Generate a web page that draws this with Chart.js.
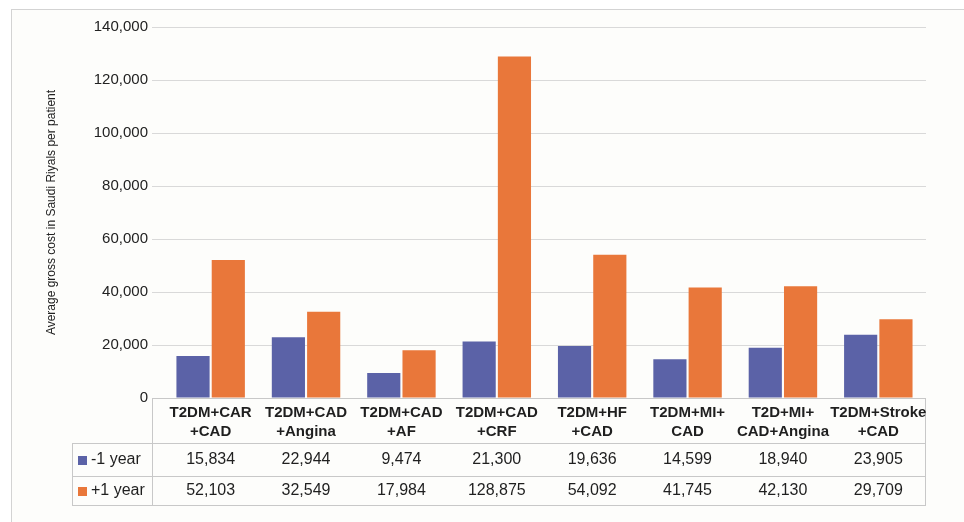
<!DOCTYPE html>
<html>
<head>
<meta charset="utf-8">
<script src="https://cdn.jsdelivr.net/npm/chart.js@4.4.1/dist/chart.umd.min.js"></script>
<style>
  html, body { margin: 0; padding: 0; background: #ffffff; }
  canvas { display: block; }
</style>
</head>
<body>
<canvas id="chart" width="964" height="522"></canvas>
<script>
// Comorbidity groups (two-line headers for the data table)
const categories = [
  ["T2DM+CAR", "+CAD"],
  ["T2DM+CAD", "+Angina"],
  ["T2DM+CAD", "+AF"],
  ["T2DM+CAD", "+CRF"],
  ["T2DM+HF", "+CAD"],
  ["T2DM+MI+", "CAD"],
  ["T2D+MI+", "CAD+Angina"],
  ["T2DM+Stroke", "+CAD"]
];
const seriesNames = ["-1 year", "+1 year"];
const costBefore = [15834, 22944, 9474, 21300, 19636, 14599, 18940, 23905];
const costAfter = [52103, 32549, 17984, 128875, 54092, 41745, 42130, 29709];
const yTickValues = [0, 20000, 40000, 60000, 80000, 100000, 120000, 140000];
const yTitle = "Average gross cost in Saudi Riyals per patient";

const seriesColors = ["#5b62a7", "#e9773a"];
const FONT = "'Liberation Sans', Arial, sans-serif";
const fmt = v => v.toLocaleString("en-US");

// Light framed panel behind the chart
const framePlugin = {
  id: "frame",
  beforeDraw(chart) {
    const ctx = chart.ctx;
    ctx.save();
    ctx.fillStyle = "#ffffff";
    ctx.fillRect(0, 0, chart.width, chart.height);
    ctx.fillStyle = "#fdfdfb";
    ctx.fillRect(11.5, 9.5, chart.width, chart.height);
    ctx.strokeStyle = "#d3d3d3";
    ctx.lineWidth = 1;
    ctx.strokeRect(11.5, 9.5, chart.width + 10, chart.height + 10);
    ctx.restore();
  }
};

// Data table under the plot: headers, legend keys and values
const tablePlugin = {
  id: "dataTable",
  afterDraw(chart) {
    const ctx = chart.ctx;
    const x = chart.scales.x;
    const area = chart.chartArea;
    const top = Math.round(chart.scales.y.getPixelForValue(0));
    const headerBottom = top + 45;
    const row1Bottom = headerBottom + 33;
    const row2Bottom = row1Bottom + 29;
    const left = area.left;
    const right = area.right;
    const keyLeft = 72;

    ctx.save();
    ctx.strokeStyle = "#c8c8c8";
    ctx.lineWidth = 1;
    ctx.beginPath();
    ctx.moveTo(left, top + 0.5); ctx.lineTo(right, top + 0.5);
    [headerBottom, row1Bottom, row2Bottom].forEach(y => {
      ctx.moveTo(keyLeft, y + 0.5); ctx.lineTo(right, y + 0.5);
    });
    ctx.moveTo(left + 0.5, top); ctx.lineTo(left + 0.5, row2Bottom + 1);
    ctx.moveTo(right - 0.5, top); ctx.lineTo(right - 0.5, row2Bottom + 1);
    ctx.moveTo(keyLeft + 0.5, headerBottom); ctx.lineTo(keyLeft + 0.5, row2Bottom + 1);
    ctx.stroke();

    ctx.fillStyle = "#1f1f1f";
    ctx.textAlign = "center";
    ctx.textBaseline = "middle";
    ctx.font = "bold 15px " + FONT;
    categories.forEach((lines, i) => {
      const cx = x.getPixelForValue(i);
      ctx.fillText(lines[0], cx, top + 15);
      ctx.fillText(lines[1], cx, top + 34);
    });

    ctx.font = "16px " + FONT;
    const rows = [costBefore, costAfter];
    const rowCenters = [headerBottom + 17, row1Bottom + 15];
    rows.forEach((vals, r) => {
      vals.forEach((v, i) => {
        ctx.fillText(fmt(v), x.getPixelForValue(i), rowCenters[r]);
      });
      ctx.fillStyle = seriesColors[r];
      ctx.fillRect(78, rowCenters[r] - 4, 9, 9);
      ctx.fillStyle = "#1f1f1f";
      ctx.textAlign = "left";
      ctx.fillText(seriesNames[r], 91, rowCenters[r]);
      ctx.textAlign = "center";
    });
    ctx.restore();
  }
};

new Chart(document.getElementById("chart"), {
  type: "bar",
  data: {
    datasets: [
      {
        label: seriesNames[0],
        data: costBefore.map((v, i) => ({ x: i, y: v })),
        backgroundColor: seriesColors[0]
      },
      {
        label: seriesNames[1],
        data: costAfter.map((v, i) => ({ x: i, y: v })),
        backgroundColor: seriesColors[1]
      }
    ]
  },
  options: {
    responsive: false,
    animation: false,
    devicePixelRatio: 1,
    categoryPercentage: 0.74,
    barPercentage: 0.94,
    layout: { padding: { left: 40, top: 27, right: 38, bottom: 124 } },
    plugins: {
      legend: { display: false },
      tooltip: { enabled: false }
    },
    scales: {
      x: {
        type: "linear",
        display: false,
        min: -0.615,
        max: 7.5,
        offset: false,
        afterBuildTicks(scale) { scale.ticks = categories.map((c, i) => ({ value: i })); }
      },
      y: {
        min: 0,
        max: 140000,
        afterFit(scale) { scale.width = 112; },
        afterBuildTicks(scale) { scale.ticks = yTickValues.map(v => ({ value: v })); },
        border: { display: false },
        grid: { color: "#d9d9d9", drawTicks: false, lineWidth: 1 },
        ticks: {
          padding: 4,
          color: "#222222",
          font: { family: FONT, size: 15 },
          callback: v => fmt(v)
        },
        title: {
          display: true,
          text: yTitle,
          color: "#222222",
          font: { family: FONT, size: 12 },
          padding: { top: 4, bottom: 4 }
        }
      }
    }
  },
  plugins: [framePlugin, tablePlugin]
});
</script>
</body>
</html>
